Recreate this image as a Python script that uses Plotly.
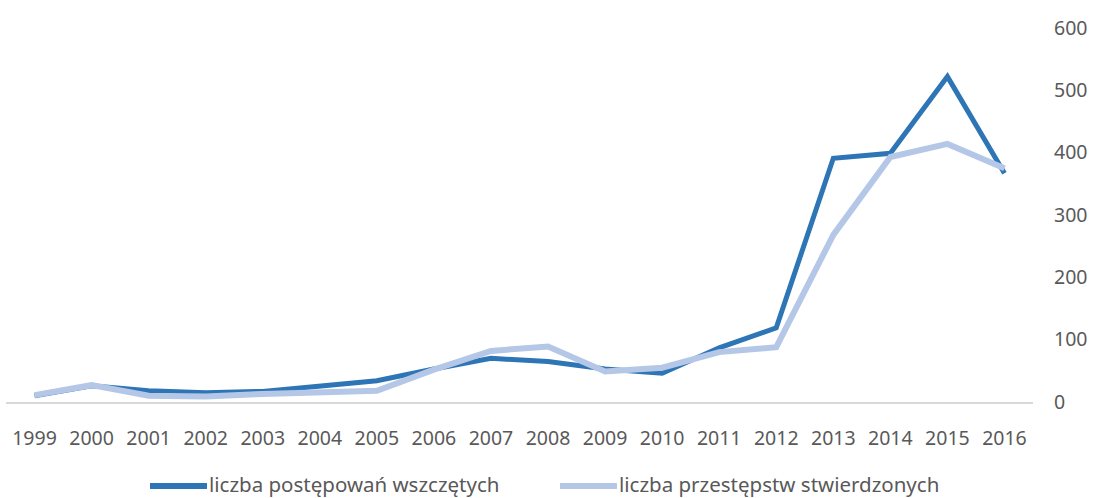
import plotly.graph_objects as go

years = [str(y) for y in range(1999, 2017)]
postepowan = [10, 26, 18, 15, 17, 25, 34, 53, 70, 65, 53, 46, 87, 119, 391, 399, 522, 367]
przestepstw = [11, 27, 10, 9, 13, 15, 18, 52, 82, 89, 49, 55, 80, 88, 268, 393, 414, 375]

name1 = "liczba postępowań wszczętych"
name2 = "liczba przestępstw stwierdzonych"
c1 = "#2e75b6"
c2 = "#b4c7e7"
font = "Noto Sans"
fcol = "#595959"

fig = go.Figure()
fig.add_trace(go.Scatter(x=years, y=postepowan, mode="lines", name=name1,
                         line=dict(color=c1, width=5)))
fig.add_trace(go.Scatter(x=years, y=przestepstw, mode="lines", name=name2,
                         line=dict(color=c2, width=6)))

fig.update_layout(
    width=1094, height=498,
    margin=dict(l=6, r=61, t=28, b=96),
    paper_bgcolor="white", plot_bgcolor="white",
    showlegend=False,
    font=dict(family=font, size=19.5, color=fcol),
    xaxis=dict(type="category", range=[-0.5, len(years) - 0.5],
               showgrid=False, zeroline=False, automargin=False,
               showline=True, linecolor="#d9d9d9", linewidth=2,
               ticks="", ticklabelstandoff=18,
               tickfont=dict(family=font, size=19.5, color=fcol)),
    yaxis=dict(side="right", range=[0, 600], dtick=100, showgrid=False, automargin=False,
               zeroline=False, showline=False, ticks="",
               ticklabelstandoff=20,
               tickfont=dict(family=font, size=19.5, color=fcol)),
)

# manual legend
def px2paper(px):
    return (px - 6) / (1094 - 6 - 61)

leg_line_y = (402 - 486) / 374
leg_text_y = (402 - 484) / 374
for x0, x1, col, w, txt in [(150, 207, c1, 6, name1), (560, 617, c2, 6, name2)]:
    fig.add_shape(type="line", xref="paper", yref="paper",
                  x0=px2paper(x0), x1=px2paper(x1), y0=leg_line_y, y1=leg_line_y,
                  line=dict(color=col, width=w))
    fig.add_annotation(xref="paper", yref="paper", x=px2paper(x1 + 1), y=leg_text_y,
                       text=txt, showarrow=False, xanchor="left", yanchor="middle",
                       borderpad=0,
                       font=dict(family=font, size=20.5, color=fcol))

fig.write_html("out.html", config={"displayModeBar": False},
               post_script="document.body.style.margin='0';")
